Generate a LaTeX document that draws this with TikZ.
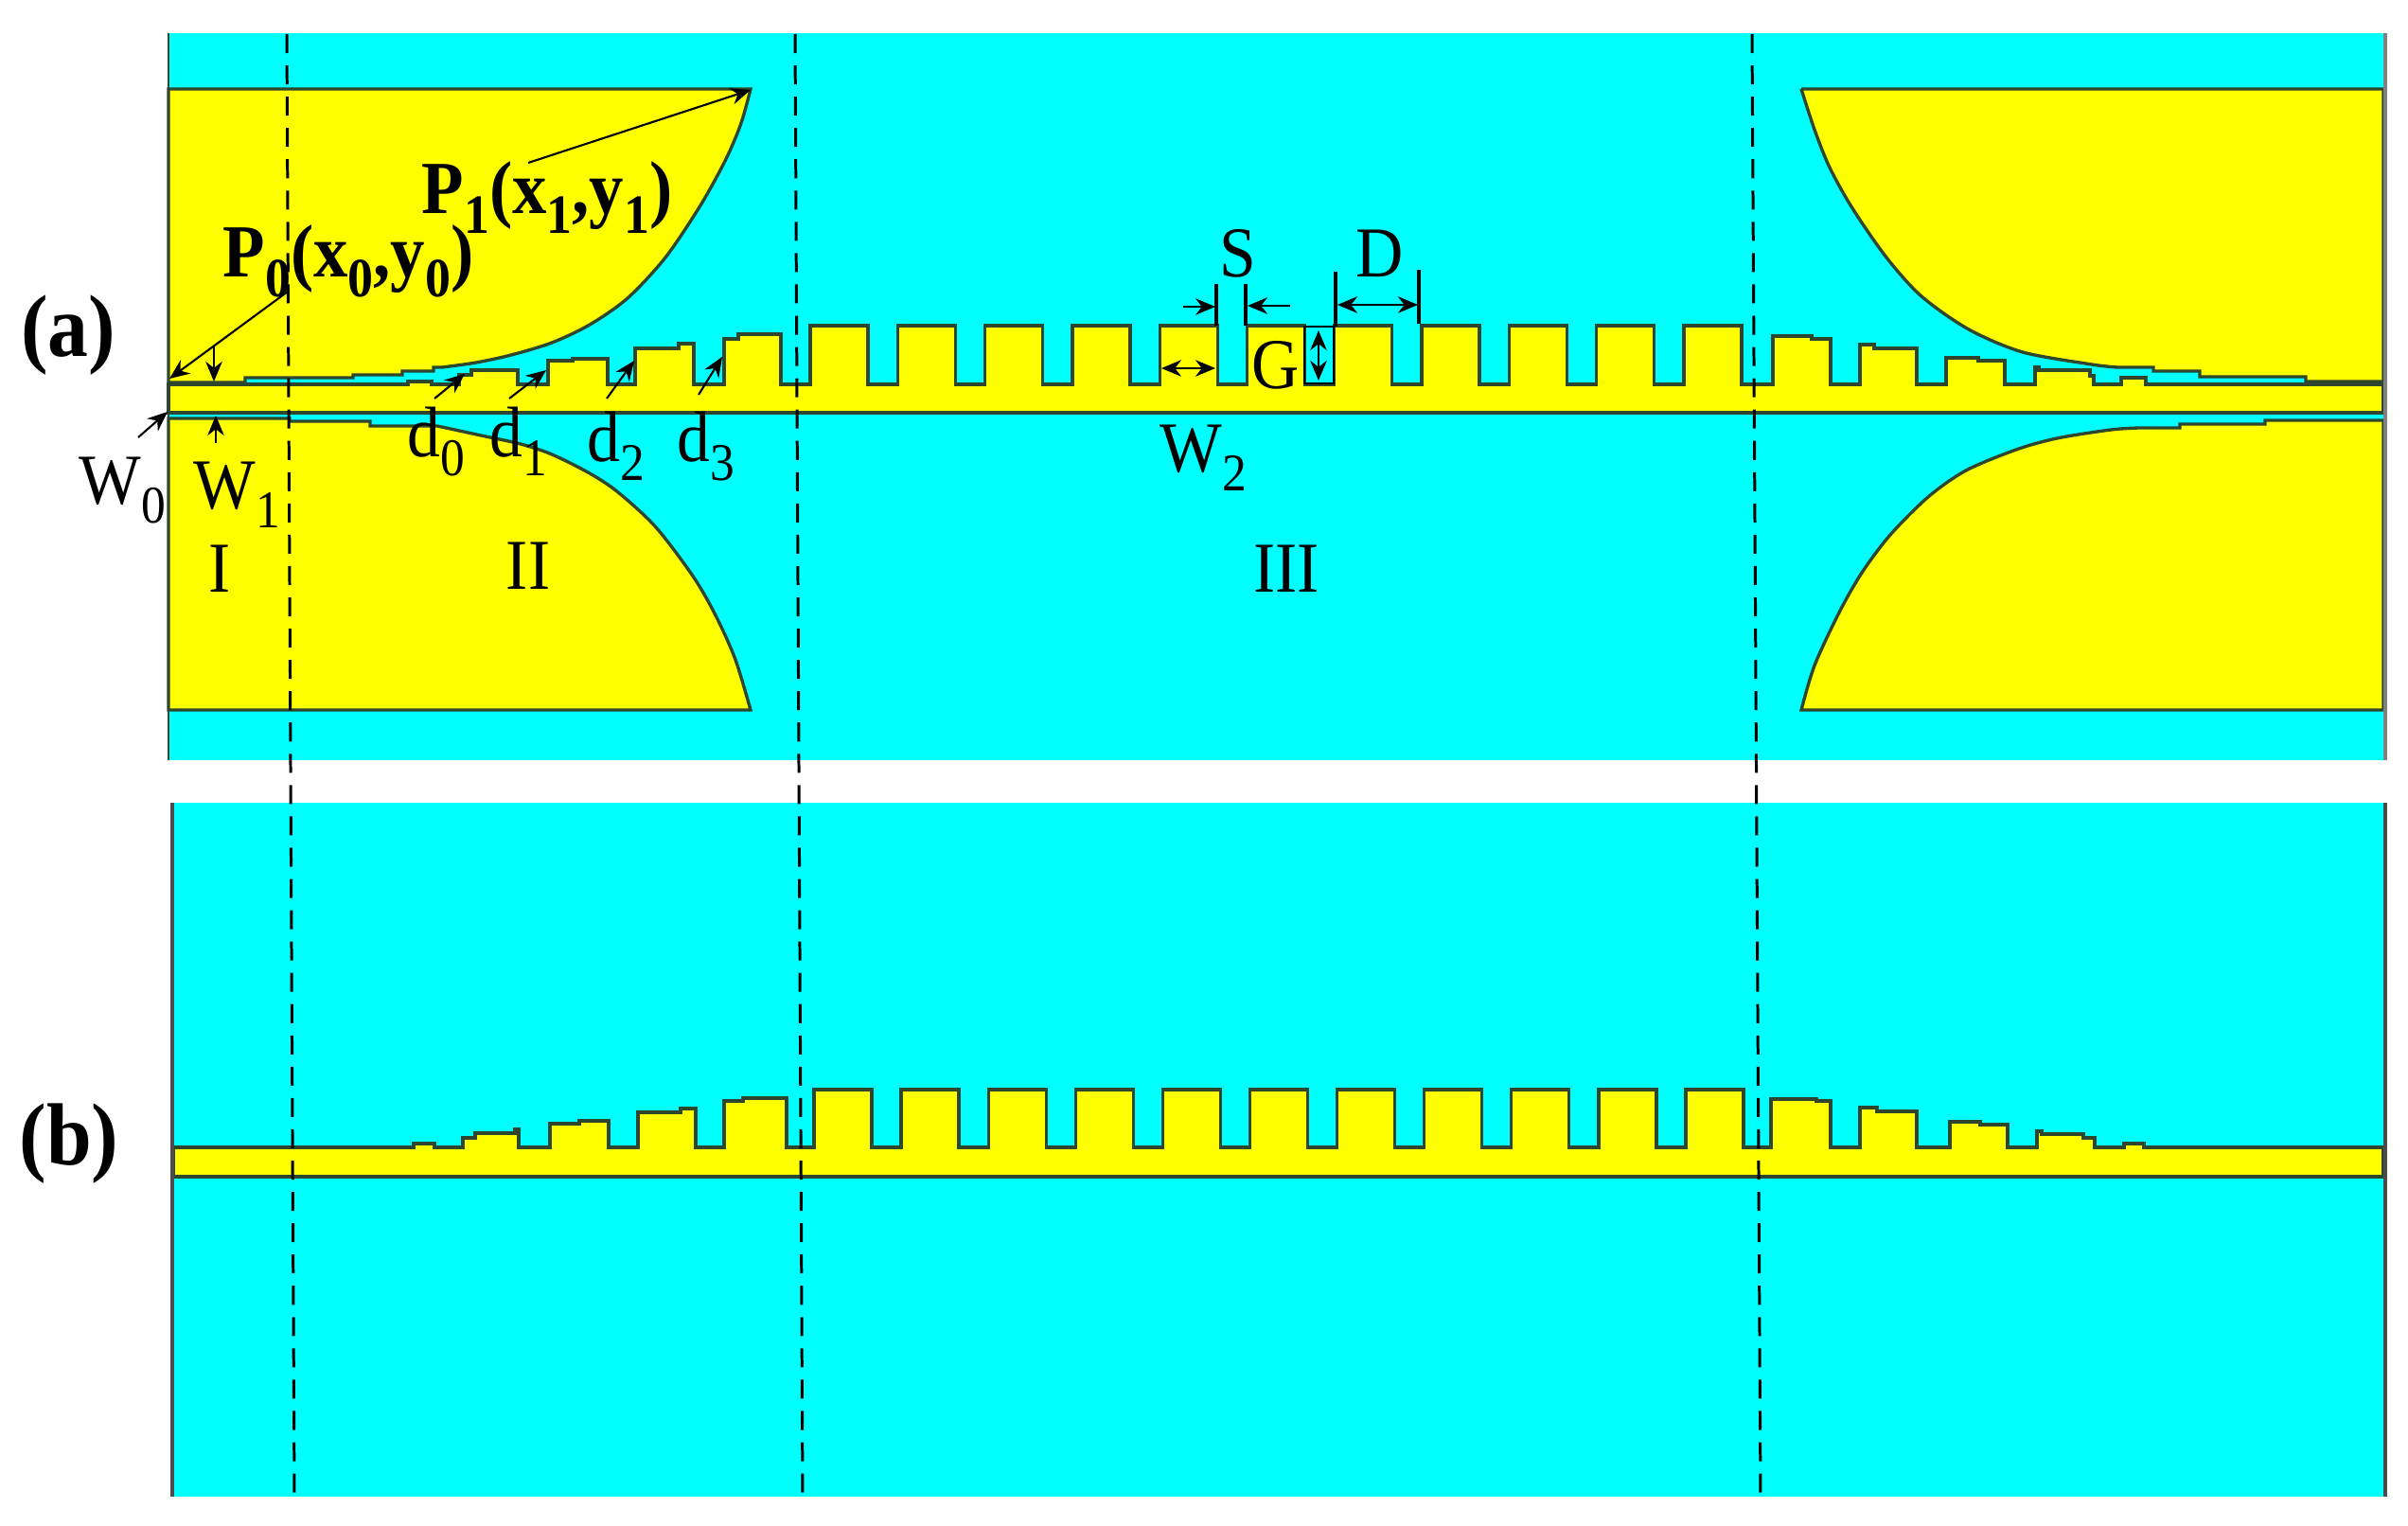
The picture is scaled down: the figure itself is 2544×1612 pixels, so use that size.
\documentclass[tikz,border=0pt]{standalone}
\usepackage{fontspec}
\usepackage{graphicx}
\setmainfont[FakeStretch=0.92]{Liberation Serif}
\usetikzlibrary{arrows.meta}
\definecolor{slotcyan}{RGB}{0,255,255}
\definecolor{metalyellow}{RGB}{255,255,0}
\definecolor{edgedark}{RGB}{45,70,45}
\newcommand{\subdigit}[1]{\raisebox{-0.27em}{\scalebox{0.74}{#1}}}
\tikzset{
	>={Stealth[length=6pt,width=5pt]},
	slot/.style={fill=slotcyan},
	metal/.style={fill=metalyellow,draw=edgedark,line width=0.95pt},
	dimline/.style={line width=0.6pt,<->},
	leadline/.style={line width=0.6pt,->},
	barline/.style={line width=0.95pt},
	regionline/.style={line width=0.85pt,dash pattern=on 5.7pt off 3.7pt},
	lbl/.style={inner sep=0pt,anchor=base west,font=\fontsize{21.5pt}{21.5pt}\selectfont},
	lblc/.style={lbl,anchor=base},
	lblb/.style={lbl,font=\fontsize{22.5pt}{22.5pt}\selectfont\bfseries},
	panel/.style={inner sep=0pt,anchor=base,font=\fontsize{26.5pt}{26.5pt}\selectfont\bfseries}
}
\begin{document}
\begin{tikzpicture}[x=0.01cm,y=-0.01cm]
	\useasboundingbox (0,0) rectangle (2544,1612);
	% Panel (a)
	\fill[slot] (178,35) rectangle (2518,803);
	\draw[metal] (178,94) -- (793,94) -- plot[smooth] coordinates {(793,94) (783,130) (767,168) (740,217) (703,272) (663,315) (623,343) (583,362) (540,375) (503,383) (467,388)} -- (458,388) -- (458,392) -- (425,392) -- (425,396) -- (373,396) -- (373,399) -- (259,399) -- (259,404) -- (178,404) -- cycle;
	\draw[metal] (1903,94) -- (2518,94) -- (2518,403) -- (2436,403) -- (2436,398) -- (2324,398) -- (2324,392) -- (2275,392) -- (2275,388) -- (2237,388) -- plot[smooth] coordinates {(2237,388) (2210,385) (2137,372) (2080,348) (2030,313) (1993,272) (1957,220) (1933,177) (1917,137) (1903,94)};
	\draw[metal] (178,442) -- (306,442) -- (306,445) -- (391,445) -- (391,450) -- (462,450) -- plot[smooth] coordinates {(462,450) (513,461) (550,469) (583,480) (623,500) (653,520) (693,557) (733,610) (757,652) (777,697) (793,750)} -- (178,750) -- cycle;
	\draw[metal] (2518,444) -- (2393,444) -- (2393,448) -- (2303,448) -- (2303,452) -- (2260,452) -- plot[smooth] coordinates {(2260,452) (2230,454) (2173,463) (2130,475) (2077,497) (2037,525) (1997,565) (1967,605) (1943,647) (1917,703) (1903,750)} -- (2518,750) -- cycle;
	% Centre strip of (a)
	\draw[metal] (178,406) -- (431,406) -- (431,403) -- (456,403) -- (456,406) -- (485,406) -- (485,396) -- (498,396) -- (498,391) -- (547,391) -- (547,406) -- (579,406) -- (579,381) -- (605,381) -- (605,379) -- (642,379) -- (642,406) -- (671,406) -- (671,368) -- (717,368) -- (717,363) -- (733,363) -- (733,406) -- (765,406) -- (765,358) -- (780,358) -- (780,353) -- (825,353) -- (825,406)
		\foreach \k in {0,...,10} { -- ({856+92.3*\k-31},406) -- ({856+92.3*\k},406) -- ({856+92.3*\k},344) -- ({856+92.3*\k+61},344) -- ({856+92.3*\k+61},406) }
		-- (1873,406) -- (1873,355) -- (1914,355) -- (1914,358) -- (1934,358) -- (1934,406) -- (1965,406) -- (1965,364) -- (1980,364) -- (1980,368) -- (2025,368) -- (2025,406) -- (2056,406) -- (2056,378) -- (2090,378) -- (2090,381) -- (2118,381) -- (2118,406) -- (2150,406) -- (2150,388) -- (2154,388) -- (2154,391) -- (2208,391) -- (2208,397) -- (2212,397) -- (2212,406) -- (2241,406) -- (2241,399) -- (2267,399) -- (2267,406) -- (2518,406) -- (2518,436) -- (178,436) -- cycle;
	\draw[edgedark,line width=0.7pt] (178,35) -- (178,803);
	\draw[gray,line width=1pt] (2520,35) -- (2520,803);

	% Panel (b)
	\fill[slot] (183,848) rectangle (2518,1581);
	\draw[metal] (183,1212) -- (437,1212) -- (437,1208) -- (459,1208) -- (459,1212) -- (489,1212) -- (489,1202) -- (502,1202) -- (502,1197) -- (544,1197) -- (544,1193) -- (548,1193) -- (548,1212) -- (581,1212) -- (581,1187) -- (612,1187) -- (612,1184) -- (643,1184) -- (643,1212) -- (674,1212) -- (674,1175) -- (719,1175) -- (719,1171) -- (735,1171) -- (735,1212) -- (765,1212) -- (765,1163) -- (785,1163) -- (785,1160) -- (831,1160) -- (831,1212)
		\foreach \k in {0,...,10} { -- ({860+92.1*\k},1212) -- ({860+92.1*\k},1151) -- ({860+92.1*\k+61},1151) -- ({860+92.1*\k+61},1212) }
		-- (1871,1212) -- (1871,1161) -- (1919,1161) -- (1919,1163) -- (1934,1163) -- (1934,1212) -- (1965,1212) -- (1965,1170) -- (1983,1170) -- (1983,1174) -- (2025,1174) -- (2025,1212) -- (2060,1212) -- (2060,1185) -- (2092,1185) -- (2092,1188) -- (2121,1188) -- (2121,1212) -- (2152,1212) -- (2152,1195) -- (2157,1195) -- (2157,1198) -- (2201,1198) -- (2201,1202) -- (2213,1202) -- (2213,1212) -- (2244,1212) -- (2244,1208) -- (2265,1208) -- (2265,1212) -- (2518,1212) -- (2518,1243) -- (183,1243) -- cycle;
	\draw[gray!60!black,line width=1.1pt] (182,848) -- (182,1581);
	\draw[gray!60!black,line width=1pt] (2520,848) -- (2520,1581);

	% Region borders
	\coordinate (borderAtop) at (303,36);
	\coordinate (borderAend) at (311,1582);
	\coordinate (borderBtop) at (840,36);
	\coordinate (borderBend) at (848,1582);
	\coordinate (borderCtop) at (1851,36);
	\coordinate (borderCend) at (1860,1582);
	\draw[regionline] (borderAtop) -- (borderAend);
	\draw[regionline] (borderBtop) -- (borderBend);
	\draw[regionline] (borderCtop) -- (borderCend);

	% Labels
	\node[panel] (panelA) at (72,376) {(a)};
	\node[panel] (panelB) at (73,1230) {(b)};
	\node[lblb] (pointP0) at (235,292) {P\subdigit{0}(x\subdigit{0},y\subdigit{0})};
	\node[lblb] (pointP1) at (445,225) {P\subdigit{1}(x\subdigit{1},y\subdigit{1})};
	\node[lbl] (labelD0) at (430,482) {d\subdigit{0}};
	\node[lbl] (labelD1) at (517,482) {d\subdigit{1}};
	\node[lbl] (labelD2) at (620,487) {d\subdigit{2}};
	\node[lbl] (labelD3) at (715,487) {d\subdigit{3}};
	\node[lbl] (labelW0) at (83,532) {W\subdigit{0}};
	\node[lbl] (labelW1) at (204,537) {W\subdigit{1}};
	\node[lbl] (labelW2) at (1225,498) {W\subdigit{2}};
	\node[lblc] (regionI) at (232,625) {I};
	\node[lblc] (regionII) at (558,622) {II};
	\node[lblc] (regionIII) at (1359,625) {III};
	\node[lblc] (labelS) at (1308,292) {S};
	\node[lblc] (labelD) at (1458,292) {D};
	\node[lblc] (labelG) at (1348,410) {G};

	% Leader arrows
	\coordinate (tipP1) at (793,95);
	\coordinate (tailP1) at (558,172);
	\coordinate (tipP0) at (179,400);
	\coordinate (tailP0) at (304,308);
	\coordinate (tipW) at (226,403);
	\coordinate (tailW) at (226,366);
	\coordinate (tipW0) at (177,435);
	\coordinate (tailW0) at (146,462);
	\coordinate (tipW1) at (228,439);
	\coordinate (tailW1) at (228,468);
	\draw[leadline] (tailP1) -- (tipP1);
	\draw[leadline] (tailP0) -- (tipP0);
	\draw[leadline] (tailW) -- (tipW);
	\draw[leadline] (tailW0) -- (tipW0);
	\draw[leadline] (tailW1) -- (tipW1);
	\foreach \nm/\xa/\ya/\xb/\yb in {0/459/421/491/395,1/538/421/577/391,2/641/421/670/381,3/738/417/763/377}{
		\coordinate (tailD\nm) at (\xa,\ya);
		\coordinate (tipD\nm) at (\xb,\yb);
		\draw[leadline] (tailD\nm) -- (tipD\nm);
	}

	% Dimension marks
	\coordinate (barSa) at (1285,300);
	\coordinate (barSaEnd) at (1285,344);
	\coordinate (barSb) at (1316,300);
	\coordinate (barSbEnd) at (1316,344);
	\coordinate (barDa) at (1411,287);
	\coordinate (barDaEnd) at (1411,345);
	\coordinate (barDb) at (1499,285);
	\coordinate (barDbEnd) at (1499,342);
	\draw[barline] (barSa) -- (barSaEnd);
	\draw[barline] (barSb) -- (barSbEnd);
	\draw[barline] (barDa) -- (barDaEnd);
	\draw[barline] (barDb) -- (barDbEnd);
	\coordinate (tailSa) at (1250,324);
	\coordinate (tipSa) at (1284,324);
	\coordinate (tailSb) at (1363,323);
	\coordinate (tipSb) at (1318,323);
	\draw[leadline] (tailSa) -- (tipSa);
	\draw[leadline] (tailSb) -- (tipSb);
	\coordinate (endDa) at (1413,322);
	\coordinate (endDb) at (1498,322);
	\draw[dimline] (endDa) -- (endDb);
	\coordinate (endWa) at (1227,389);
	\coordinate (endWb) at (1284,389);
	\draw[dimline] (endWa) -- (endWb);
	\draw[line width=0.6pt] (1378,345) rectangle (1409,405);
	\coordinate (endGa) at (1393,349);
	\coordinate (endGb) at (1393,402);
	\draw[dimline] (endGa) -- (endGb);
\end{tikzpicture}
\end{document}
